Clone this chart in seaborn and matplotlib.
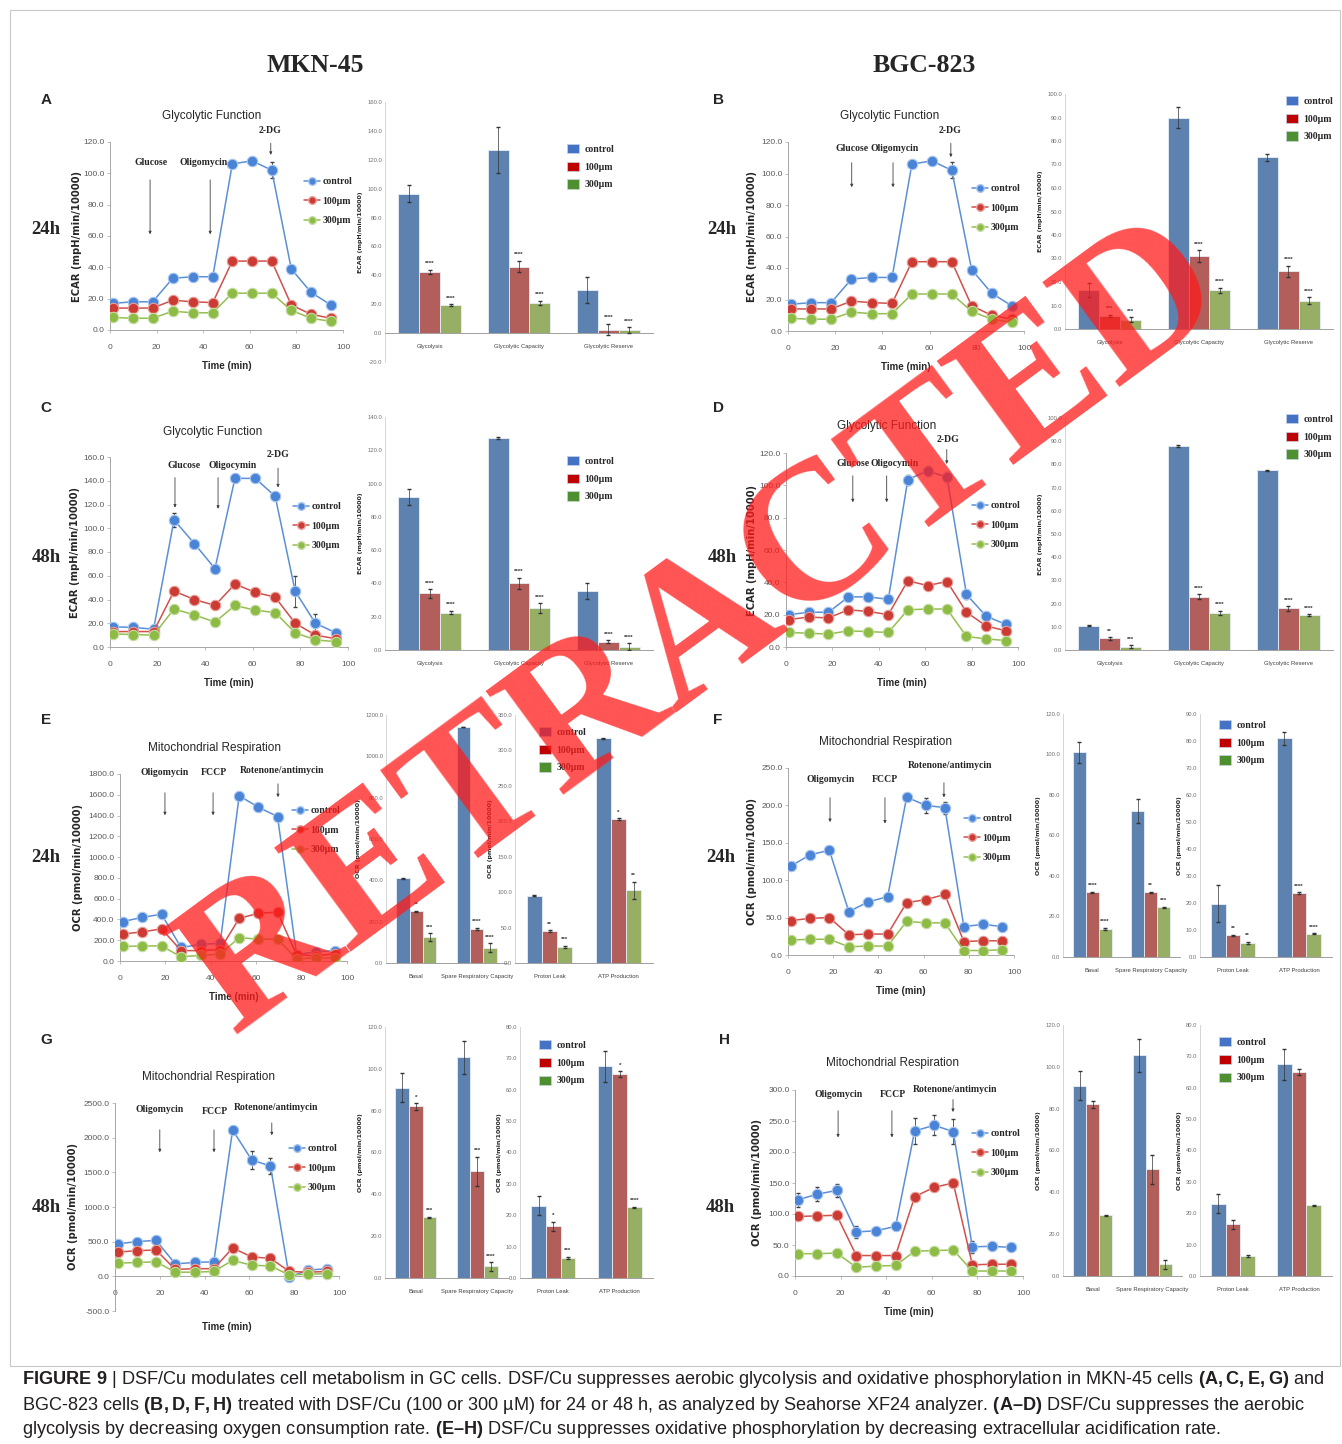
import numpy as np
import pandas as pd
import matplotlib
matplotlib.use("Agg")
import matplotlib.pyplot as plt
import seaborn as sns
from matplotlib import font_manager
from matplotlib.container import BarContainer
from matplotlib.lines import Line2D
from matplotlib.patches import Patch, Rectangle

W, H = 1342, 1444

# ---------------- data ----------------
groups = ["control", "100\u03bcm", "300\u03bcm"]
times = [1.3, 9.8, 18.3, 26.9, 35.5, 44.1, 52.5, 61.0, 69.4, 77.8, 86.3, 94.8]

# ECAR time courses (control, 100, 300)
ecar_mkn_24 = [[17, 18, 18, 33, 34, 34, 106, 108, 102, 39, 24, 16],
               [14, 14, 14, 19, 18, 17.5, 44, 44, 44, 16, 10, 7.5],
               [8, 7.5, 7.5, 12, 11, 11, 23.5, 23.5, 23.5, 12.5, 7.5, 5.5]]
ecar_mkn_24_err = [2, 1, 1, 2, 1, 1, 2, 2, 5, 2, 2, 2]
ecar_bgc_24 = [[17, 18, 18, 33, 34, 34, 106, 108, 102, 39, 24, 16],
               [14, 14, 14, 19, 18, 17.5, 44, 44, 44, 16, 10, 7.5],
               [8, 7.5, 7.5, 12, 11, 11, 23.5, 23.5, 23.5, 12.5, 7.5, 5.5]]
ecar_bgc_24_err = [2, 1, 1, 2, 1, 1, 2, 2, 5, 2, 2, 2]
ecar_mkn_48 = [[17, 16.5, 15, 107, 87, 66, 142, 142, 127, 47, 20, 12],
               [13, 13, 13, 47, 40, 35, 53, 46, 42, 20, 10, 7],
               [11, 10.5, 10, 32, 27, 21, 35, 31, 29, 12, 6, 4.5]]
ecar_mkn_48_err = [1, 1, 1, 6, 2, 3, 2, 2, 2, 13, 8, 2]
ecar_bgc_48 = [[20, 21.5, 21.5, 31, 31, 29.5, 103.5, 109, 105, 32.5, 19, 14],
               [17, 18.5, 18, 23, 22, 20, 41, 38, 40.5, 21.5, 13, 10],
               [9, 8.5, 8, 10, 9.5, 9, 23, 23.5, 23.5, 6.5, 5, 4]]
ecar_bgc_48_err = [2, 2, 2, 2, 2, 2, 3, 3, 3, 3, 2, 2]

# OCR time courses
ocr_mkn_24 = [[380, 420, 450, 130, 160, 170, 1590, 1480, 1390, 60, 90, 100],
              [260, 280, 310, 100, 100, 110, 410, 460, 470, 60, 50, 70],
              [140, 145, 145, 40, 55, 65, 225, 210, 210, 20, 30, 30]]
ocr_mkn_24_err = [20, 20, 20, 15, 15, 15, 30, 30, 30, 10, 10, 10]
ocr_bgc_24 = [[119, 134, 140, 58, 71, 78, 211, 200, 197, 38, 41, 38],
              [46, 49, 50, 27, 28, 28, 70, 74, 81, 18, 19, 19],
              [20, 21, 21, 11, 12, 12, 45, 43, 43, 6, 6, 7]]
ocr_bgc_24_err = [3, 3, 3, 3, 3, 3, 3, 10, 8, 3, 3, 3]
ocr_mkn_48 = [[470, 500, 520, 180, 200, 210, 2110, 1680, 1590, -10, 90, 110],
              [350, 370, 380, 100, 110, 110, 410, 280, 260, 70, 60, 70],
              [190, 200, 210, 60, 60, 70, 230, 160, 150, 20, 30, 40]]
ocr_mkn_48_err = [20, 20, 20, 20, 20, 20, 40, 130, 120, 30, 20, 20]
ocr_bgc_48 = [[123, 132, 138, 71, 73, 80, 234, 243, 233, 47, 48, 46],
              [96, 97, 98, 33, 33, 33, 128, 143, 150, 18, 19, 19],
              [36, 36, 37, 14, 16, 17, 40, 41, 42, 8, 8, 8]]
ocr_bgc_48_err = [11, 11, 10, 9, 5, 5, 21, 16, 20, 10, 6, 5]

# bar summaries
gly_cats = ["Glycolysis", "Glycolytic Capacity", "Glycolytic Reserve"]
resp_cats = ["Basal", "Spare Respiratory Capacity"]
leak_cats = ["Proton Leak", "ATP Production"]

gly_mkn_24 = [[96.5, 127, 30], [42.5, 46, 2.5], [19.5, 21, 2]]
gly_mkn_24_err = [[6, 16, 9], [1.5, 4, 4], [0.5, 1.5, 2]]
gly_mkn_24_sig = [["", "", ""], ["****", "****", "****"], ["****", "****", "****"]]
gly_bgc_24 = [[16.5, 90, 73], [5.5, 31, 24.5], [4, 16.5, 12]]
gly_bgc_24_err = [[3, 4.5, 1.5], [0.5, 2.5, 2.5], [1, 1, 1.5]]
gly_bgc_24_sig = [["", "", ""], ["***", "****", "****"], ["***", "****", "****"]]
gly_mkn_48 = [[92, 127.5, 35.5], [34, 40, 5], [22.5, 25, 2]]
gly_mkn_48_err = [[5, 0.5, 5], [2.5, 3.5, 1], [1, 3, 2]]
gly_mkn_48_sig = [["", "", ""], ["****", "****", "****"], ["****", "****", "****"]]
gly_bgc_48 = [[10.5, 88, 77.5], [5, 23, 18], [1.5, 16, 15]]
gly_bgc_48_err = [[0.3, 0.3, 0.3], [0.5, 1, 1], [0.5, 1, 0.5]]
gly_bgc_48_sig = [["", "", ""], ["**", "****", "****"], ["***", "****", "****"]]

resp_mkn_24 = [[410, 1140], [250, 165], [125, 75]]
resp_mkn_24_err = [[3, 0], [4, 5], [20, 20]]
resp_mkn_24_sig = [["", ""], ["**", "****"], ["***", "****"]]
leak_mkn_24 = [[95, 317], [45, 203], [22.5, 103]]
leak_mkn_24_err = [[0.5, 0.5], [1, 1], [2, 12]]
leak_mkn_24_sig = [["", ""], ["**", "*"], ["***", "**"]]
resp_bgc_24 = [[101, 72], [32, 32], [14, 24.5]]
resp_bgc_24_err = [[5, 6], [0.2, 0.2], [0.5, 0.3]]
resp_bgc_24_sig = [["", ""], ["****", "**"], ["****", "***"]]
leak_bgc_24 = [[19.8, 81], [8, 23.7], [5.3, 8.7]]
leak_bgc_24_err = [[7, 2.5], [0.3, 0.2], [0.3, 0.2]]
leak_bgc_24_sig = [["", ""], ["**", "****"], ["**", "****"]]
resp_mkn_48 = [[91, 105.5], [82, 51], [29, 5.5]]
resp_mkn_48_err = [[7, 8], [1.5, 7], [0.3, 2]]
resp_mkn_48_sig = [["", ""], ["*", "***"], ["***", "****"]]
leak_mkn_48 = [[23, 67.5], [16.5, 65], [6.5, 22.5]]
leak_mkn_48_err = [[3, 5], [1.5, 1], [0.3, 0.2]]
leak_mkn_48_sig = [["", ""], ["*", "*"], ["***", "****"]]
resp_bgc_48 = [[91, 105.5], [82, 51], [29, 5.5]]
resp_bgc_48_err = [[7, 8], [1.5, 7], [0.3, 2]]
leak_bgc_48 = [[23, 67.5], [16.5, 65], [6.5, 22.5]]
leak_bgc_48_err = [[3, 5], [1.5, 1], [0.3, 0.2]]

# ---------------- style ----------------
sns.set_style("ticks")
plt.rcParams["font.family"] = ["Liberation Sans", "DejaVu Sans"]
plt.rcParams["mathtext.fontset"] = "custom"
plt.rcParams["mathtext.rm"] = "Liberation Sans"
plt.rcParams["mathtext.bf"] = "Liberation Sans:bold"

narrow = "Liberation Sans Narrow"
try:
    font_manager.findfont(font_manager.FontProperties(family=narrow), fallback_to_default=False)
except Exception:
    narrow = "Liberation Sans"
serif = "Liberation Serif"

line_cols = ["#5B8FD6", "#D0504A", "#94BF4F"]
mark_cols = ["#4A84D6", "#CC3B33", "#8DBB45"]
edge_cols = ["#A9C6EE", "#E8A09B", "#C5DDA3"]
bar_cols = ["#4F81BD", "#C0504D", "#9BBB59"]
leg_cols = ["#4472C4", "#C00000", "#4E8F2F"]

fig = plt.figure(figsize=(W / 100, H / 100), dpi=100)


def px_rect(x0, ytop, x1, ybot):
    return [x0 / W, 1 - ybot / H, (x1 - x0) / W, (ybot - ytop) / H]


def fx(x, y):
    return (x / W, 1 - y / H)


def line_panel(rect, series, err, ylim, ystep, ylabel, title, title_xy, notes, leg_xy,
               ylab_dx=30):
    ax = fig.add_axes(px_rect(*rect))
    for vals, lc, mc, ec in zip(series, line_cols, mark_cols, edge_cols):
        sns.lineplot(x=times, y=vals, ax=ax, color=lc, linewidth=1.1, marker="o",
                     markersize=7.5, markerfacecolor=mc, markeredgecolor=ec,
                     markeredgewidth=0.8, zorder=3)
    ax.errorbar(times, series[0], yerr=err, fmt="none", ecolor="#404040",
                elinewidth=0.6, capsize=1.5, zorder=2)
    ax.set_xlim(0, 100)
    ax.set_ylim(*ylim)
    ax.set_xticks(range(0, 101, 20))
    ax.set_yticks(np.arange(ylim[0], ylim[1] + 1, ystep))
    ax.yaxis.set_major_formatter(matplotlib.ticker.FormatStrFormatter("%.1f"))
    ax.spines["bottom"].set_position(("data", 0))
    for s in ["top", "right"]:
        ax.spines[s].set_visible(False)
    for s in ["left", "bottom"]:
        ax.spines[s].set_color("#A6A6A6")
        ax.spines[s].set_linewidth(0.7)
    ax.tick_params(length=2, width=0.5, color="#A6A6A6", labelsize=6,
                   labelcolor="#595959", pad=2)
    ax.tick_params(axis="x", pad=8)
    for t in ax.get_xticklabels() + ax.get_yticklabels():
        t.set_family(narrow)
    ax.set_xlabel("Time (min)", family=narrow, fontweight="bold", fontsize=7, labelpad=7)
    ax.set_ylabel(ylabel, family="DejaVu Sans", fontweight="bold", fontsize=7.2)
    width_px = rect[2] - rect[0]
    ax.yaxis.set_label_coords(-ylab_dx / width_px, 0.5)
    if ylim[0] < 0:
        ax.xaxis.set_label_coords(0.5, -0.055)
    fig.text(*fx(*title_xy), title, family=narrow, fontsize=8.5, ha="center", va="center")
    for label, lx, ly, axx, ytop, ybot in notes:
        ax.text(lx, ly, label, family=serif, fontweight="bold", fontsize=7,
                ha="center", va="center", clip_on=False)
        ax.annotate("", xy=(axx, ybot), xytext=(axx, ytop), annotation_clip=False,
                    arrowprops=dict(arrowstyle="-|>", color="#404040", lw=0.6,
                                    mutation_scale=4))
    handles = [Line2D([0], [0], color=lc, lw=1.1, marker="o", ms=5.5, mfc=mc, mec=ec)
               for lc, mc, ec in zip(line_cols, mark_cols, edge_cols)]
    ax.legend(handles, groups, loc="upper left", bbox_to_anchor=fx(*leg_xy),
              bbox_transform=fig.transFigure, frameon=False, borderpad=0,
              borderaxespad=0, handlelength=1.6, handletextpad=0.3, labelspacing=1.1,
              prop=dict(family=serif, weight="bold", size=7))
    return ax


def bar_panel(rect, cats, vals, errs, sigs, ylim, ystep, ylabel, width=0.7, leg_xy=None):
    ax = fig.add_axes(px_rect(*rect))
    df = pd.DataFrame({"cat": [c for g in vals for c in cats],
                       "grp": [groups[i] for i, g in enumerate(vals) for _ in cats],
                       "val": [v for g in vals for v in g]})
    sns.barplot(data=df, x="cat", y="val", hue="grp", order=cats, hue_order=groups,
                palette=dict(zip(groups, bar_cols)), width=width, errorbar=None,
                edgecolor="#E8EEF6", linewidth=0.6, legend=False, ax=ax, zorder=2)
    bars = [c for c in ax.containers if isinstance(c, BarContainer)]
    for i, cont in enumerate(bars):
        for j, bar in enumerate(cont.patches):
            xc = bar.get_x() + bar.get_width() / 2
            top = bar.get_height() + errs[i][j]
            ax.errorbar(xc, bar.get_height(), yerr=errs[i][j], fmt="none",
                        ecolor="#333333", elinewidth=0.5, capsize=1.2, zorder=3)
            if sigs is not None and sigs[i][j]:
                ax.annotate(sigs[i][j], (xc, top), xytext=(0, 2.5), textcoords="offset points",
                            ha="center", va="bottom", fontsize=4.5, fontweight="bold",
                            color="#333333")
    ax.set_xlim(-0.5, len(cats) - 0.5)
    ax.set_ylim(*ylim)
    ax.set_yticks(np.arange(ylim[0], ylim[1] + 0.01, ystep))
    ax.yaxis.set_major_formatter(matplotlib.ticker.FormatStrFormatter("%.1f"))
    ax.spines["bottom"].set_position(("data", 0))
    for s in ["top", "right"]:
        ax.spines[s].set_visible(False)
    ax.spines["left"].set_color("#D0D0D0")
    ax.spines["bottom"].set_color("#A0A0A0")
    ax.spines["left"].set_linewidth(0.6)
    ax.spines["bottom"].set_linewidth(0.7)
    ax.tick_params(axis="y", length=0, labelsize=4.2, labelcolor="#707070", pad=2)
    ax.tick_params(axis="x", length=0, labelsize=4.2, labelcolor="#404040", pad=8)
    for t in ax.get_xticklabels() + ax.get_yticklabels():
        t.set_family(narrow)
    ax.set_xlabel("")
    ax.set_ylabel(ylabel, family="DejaVu Sans", fontweight="bold", fontsize=4.5, labelpad=3)
    if leg_xy is not None:
        handles = [Patch(facecolor=c, edgecolor="#C8D4E6", lw=0.5) for c in leg_cols]
        ax.legend(handles, groups, loc="upper left", bbox_to_anchor=fx(*leg_xy),
                  bbox_transform=fig.transFigure, frameon=False, borderpad=0,
                  borderaxespad=0, handlelength=1.2, handleheight=1.1, handletextpad=0.6,
                  labelspacing=0.8, prop=dict(family=serif, weight="bold", size=7))
    return ax


ecar_lab = "ECAR (mpH/min/10000)"
ocr_lab = "OCR (pmol/min/10000)"

# ---------------- line panels ----------------
line_panel((110, 142, 343, 330), ecar_mkn_24, ecar_mkn_24_err, (0, 120), 20, ecar_lab,
           "Glycolytic Function", (212, 116),
           [("Glucose", 17.6, 106.6, 17.2, 97.6, 59.3),
            ("Oligomycin", 40.0, 106.6, 43.0, 97.6, 59.3),
            ("2-DG", 68.7, 127.6, 69.0, 121, 110)], (304, 177), ylab_dx=28)
line_panel((788, 142, 1024, 331), ecar_bgc_24, ecar_bgc_24_err, (0, 120), 20, ecar_lab,
           "Glycolytic Function", (890, 116),
           [("Glucose", 27.0, 116, 27.0, 108.6, 89.5),
            ("Oligomycin", 45.0, 116, 44.5, 108.6, 89.5),
            ("2-DG", 68.6, 127, 69.0, 121, 108.6)], (972, 184), ylab_dx=31)
line_panel((110, 457, 348, 647), ecar_mkn_48, ecar_mkn_48_err, (0, 160), 20, ecar_lab,
           "Glycolytic Function", (213, 432),
           [("Glucose", 31.0, 153, 27.3, 145, 115),
            ("Oligocymin", 51.5, 153, 45.4, 145, 114),
            ("2-DG", 70.6, 161.7, 70.6, 153, 132)], (293, 502), ylab_dx=30)
line_panel((786, 453, 1018, 647), ecar_bgc_48, ecar_bgc_48_err, (0, 120), 20, ecar_lab,
           "Glycolytic Function", (887, 426),
           [("Glucose", 28.9, 113.8, 28.8, 107.6, 87.8),
            ("Oligocymin", 47.0, 113.8, 43.4, 107.6, 87.8),
            ("2-DG", 69.8, 128.6, 69.3, 123.9, 111.5)], (972, 501), ylab_dx=29)
line_panel((120, 774, 347, 961), ocr_mkn_24, ocr_mkn_24_err, (0, 1800), 200, ocr_lab,
           "Mitochondrial Respiration", (214, 748),
           [("Oligomycin", 19.8, 1810, 19.8, 1646, 1376),
            ("FCCP", 41.4, 1810, 41.0, 1646, 1376),
            ("Rotenone/antimycin", 71.4, 1829, 69.6, 1732, 1550)], (292, 806), ylab_dx=37)
line_panel((788, 768, 1014, 955), ocr_bgc_24, ocr_bgc_24_err, (0, 250), 50, ocr_lab,
           "Mitochondrial Respiration", (885, 742),
           [("Oligomycin", 19.0, 234, 18.6, 214, 174),
            ("FCCP", 42.9, 234, 42.9, 214, 172),
            ("Rotenone/antimycin", 71.7, 252.7, 69.0, 234, 207)], (964, 814), ylab_dx=31)
line_panel((115, 1103, 339, 1311), ocr_mkn_48, ocr_mkn_48_err, (-500, 2500), 500, ocr_lab,
           "Mitochondrial Respiration", (209, 1077),
           [("Oligomycin", 20.0, 2413, 20.0, 2153, 1749),
            ("FCCP", 44.6, 2384, 44.2, 2153, 1749),
            ("Rotenone/antimycin", 71.9, 2428, 70.0, 2254, 1994)], (289, 1144), ylab_dx=37)
line_panel((795, 1090, 1023, 1276), ocr_bgc_48, ocr_bgc_48_err, (0, 300), 50, ocr_lab,
           "Mitochondrial Respiration", (893, 1063),
           [("Oligomycin", 19.3, 292, 18.9, 271, 219),
            ("FCCP", 43.0, 292, 42.5, 271, 219),
            ("Rotenone/antimycin", 70.2, 301.6, 69.3, 289, 260)], (972, 1129), ylab_dx=33)

# ---------------- bar panels ----------------
bar_panel((385, 102, 653, 362), gly_cats, gly_mkn_24, gly_mkn_24_err, gly_mkn_24_sig,
          (-20, 160), 20, ecar_lab, leg_xy=(567, 144))
bar_panel((1065, 94, 1333, 329), gly_cats, gly_bgc_24, gly_bgc_24_err, gly_bgc_24_sig,
          (0, 100), 10, ecar_lab, leg_xy=(1286, 96))
bar_panel((385, 417, 653, 650), gly_cats, gly_mkn_48, gly_mkn_48_err, gly_mkn_48_sig,
          (0, 140), 20, ecar_lab, leg_xy=(567, 456))
bar_panel((1065, 418, 1333, 650), gly_cats, gly_bgc_48, gly_bgc_48_err, gly_bgc_48_sig,
          (0, 100), 10, ecar_lab, leg_xy=(1286, 414))
bar_panel((386, 715, 507, 963), resp_cats, resp_mkn_24, resp_mkn_24_err, resp_mkn_24_sig,
          (0, 1200), 200, ocr_lab, width=0.66)
bar_panel((515, 715, 653, 963), leak_cats, leak_mkn_24, leak_mkn_24_err, leak_mkn_24_sig,
          (0, 350), 50, ocr_lab, width=0.66, leg_xy=(539, 727))
bar_panel((1063, 714, 1180, 957), resp_cats, resp_bgc_24, resp_bgc_24_err, resp_bgc_24_sig,
          (0, 120), 20, ocr_lab, width=0.66)
bar_panel((1200, 714, 1332, 957), leak_cats, leak_bgc_24, leak_bgc_24_err, leak_bgc_24_sig,
          (0, 90), 10, ocr_lab, width=0.66, leg_xy=(1219, 720))
bar_panel((385, 1027, 508, 1278), resp_cats, resp_mkn_48, resp_mkn_48_err, resp_mkn_48_sig,
          (0, 120), 20, ocr_lab, width=0.66)
bar_panel((520, 1027, 653, 1278), leak_cats, leak_mkn_48, leak_mkn_48_err, leak_mkn_48_sig,
          (0, 80), 10, ocr_lab, width=0.66, leg_xy=(539, 1040))
bar_panel((1063, 1025, 1182, 1276), resp_cats, resp_bgc_48, resp_bgc_48_err, None,
          (0, 120), 20, ocr_lab, width=0.66)
bar_panel((1200, 1025, 1332, 1276), leak_cats, leak_bgc_48, leak_bgc_48_err, None,
          (0, 80), 10, ocr_lab, width=0.66, leg_xy=(1219, 1037))

# ---------------- labels ----------------
fig.text(*fx(315, 66), "MKN-45", family=serif, fontweight="bold", fontsize=18.5,
         ha="center", va="center")
fig.text(*fx(924, 66), "BGC-823", family=serif, fontweight="bold", fontsize=18.5,
         ha="center", va="center")
for letter, x, y in [("A", 46, 100), ("B", 718, 100), ("C", 46, 408), ("D", 718, 408),
                     ("E", 46, 720), ("F", 718, 720), ("G", 46, 1040), ("H", 724, 1040)]:
    fig.text(*fx(x, y), letter, fontweight="bold", fontsize=11, ha="center", va="center")
for lab, x, y in [("24h", 46, 230), ("48h", 46, 558), ("24h", 46, 857), ("48h", 46, 1208),
                  ("24h", 722, 230), ("48h", 722, 558), ("24h", 721, 857), ("48h", 720, 1208)]:
    fig.text(*fx(x, y), lab, family=serif, fontweight="bold", fontsize=13.5,
             ha="center", va="center")

fig.add_artist(Rectangle(fx(10, 1366), 1330 / W, 1356 / H, transform=fig.transFigure,
                         fill=False, ec="#C8C8C8", lw=0.8))

cap = ["$\\bf{FIGURE\\ 9}$ | DSF/Cu modulates cell metabolism in GC cells. DSF/Cu suppresses "
       "aerobic glycolysis and oxidative phosphorylation in MKN-45 cells $\\bf{(A,C,E,G)}$ and",
       "BGC-823 cells $\\bf{(B,D,F,H)}$ treated with DSF/Cu (100 or 300 \u00b5M) for 24 or "
       "48 h, as analyzed by Seahorse XF24 analyzer. $\\bf{(A\u2013D)}$ DSF/Cu suppresses the aerobic",
       "glycolysis by decreasing oxygen consumption rate. $\\bf{(E\u2013H)}$ DSF/Cu suppresses "
       "oxidative phosphorylation by decreasing extracellular acidification rate."]
for line, y in zip(cap, [1380, 1405, 1429]):
    fig.text(*fx(22, y), line, fontsize=13.1, color="#231F20", ha="left", va="center")

# retraction stamp
fig.text(*fx(704, 630), "RETRACTED", family=serif, fontweight="bold", fontsize=142,
         color="#FF1A1A", alpha=0.75, rotation=36.3, rotation_mode="anchor",
         ha="center", va="center", zorder=10)

fig.savefig("out.png", dpi=100)
